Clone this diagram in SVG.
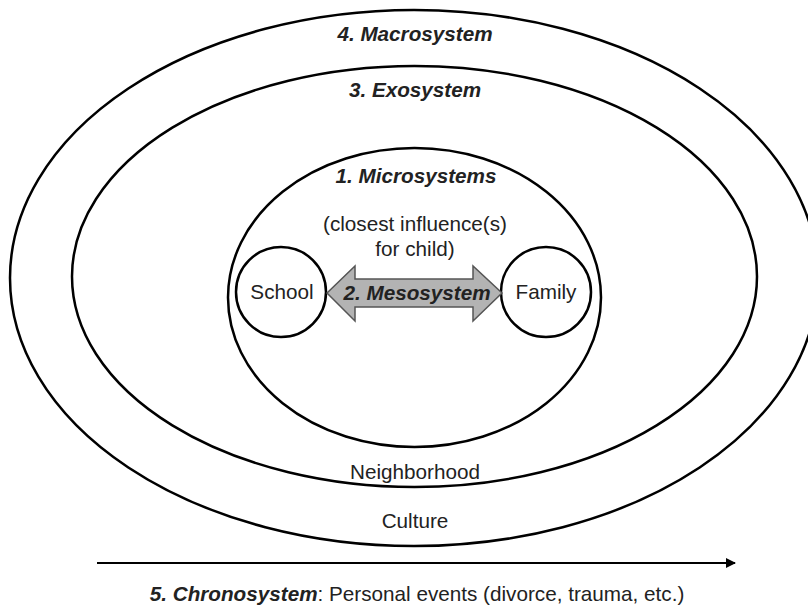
<svg xmlns="http://www.w3.org/2000/svg" width="808" height="610" viewBox="0 0 808 610">
<defs>
<style>
.ring{fill:none;stroke:#000;stroke-width:2.5}
.t{font-family:"Liberation Sans",Arial,sans-serif;font-size:20.7px;fill:#222;text-anchor:middle}
.b{font-weight:bold;font-style:italic}
</style>
<marker id="ah" markerWidth="10" markerHeight="10" refX="9" refY="5" orient="auto" markerUnits="userSpaceOnUse">
<path d="M0,0 L10,5 L0,10 z" fill="#000"/>
</marker>
</defs>
<rect width="808" height="610" fill="#fff"/>
<g id="macrosystem">
<ellipse class="ring" cx="414" cy="278" rx="404" ry="268"/>
<text class="t b" x="415" y="41">4. Macrosystem</text>
<text class="t" x="415" y="528">Culture</text>
</g>
<g id="exosystem">
<ellipse class="ring" cx="414.5" cy="276.5" rx="342.5" ry="210.5"/>
<text class="t b" x="415" y="97">3. Exosystem</text>
<text class="t" x="415" y="479">Neighborhood</text>
</g>
<g id="microsystems">
<ellipse class="ring" cx="414.5" cy="297.5" rx="186.5" ry="149.5"/>
<text class="t b" x="416" y="183">1. Microsystems</text>
<text class="t" x="415" y="231">(closest influence(s)</text>
<text class="t" x="415" y="256">for child)</text>
</g>
<g id="school">
<circle class="ring" cx="281" cy="292" r="45"/>
<text class="t" x="282" y="299">School</text>
</g>
<g id="family">
<circle class="ring" cx="546" cy="292" r="45"/>
<text class="t" x="546" y="299">Family</text>
</g>
<g id="connectors">
<g id="mesosystem">
<path d="M327,293 L355,266 L355,279 L473,279 L473,266 L502,293 L473,321 L473,307 L355,307 L355,321 Z" fill="#b3b3b3" stroke="#555" stroke-width="1.5" stroke-linejoin="miter"/>
<text class="t b" x="417" y="300" fill="#111">2. Mesosystem</text>
</g>
<g id="chronosystem">
<line x1="97" y1="563" x2="735" y2="563" stroke="#000" stroke-width="2" marker-end="url(#ah)"/>
<text class="t" x="417" y="601"><tspan class="b">5. Chronosystem</tspan>: Personal events (divorce, trauma, etc.)</text>
</g>
</g>
</svg>
